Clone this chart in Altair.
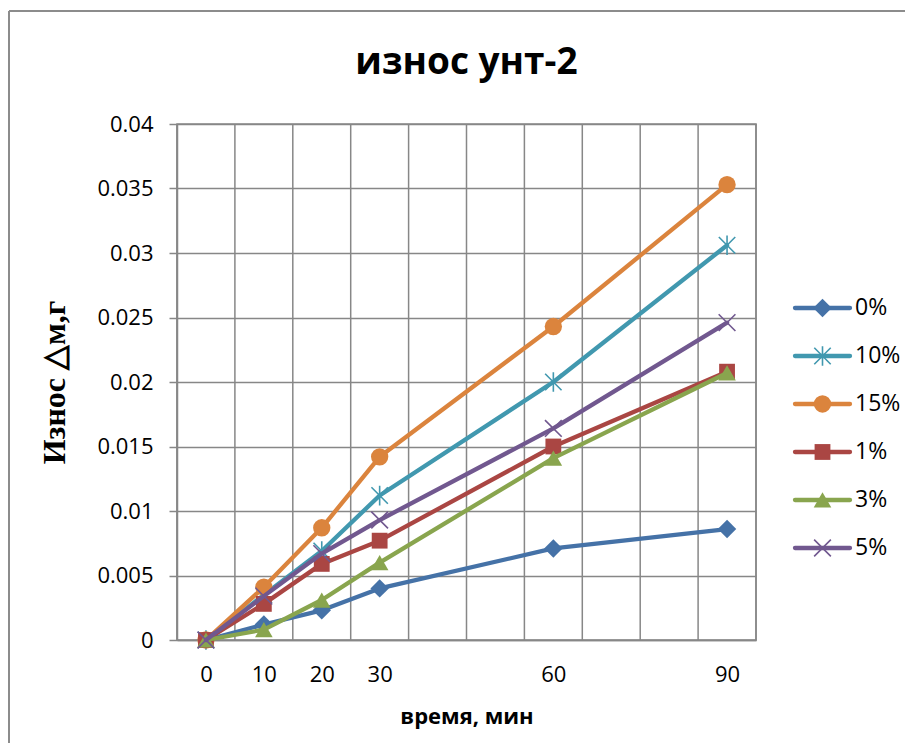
import altair as alt
import pandas as pd

# ---- data ----
times = [0, 10, 20, 30, 60, 90]
series_names = ["0%", "10%", "15%", "1%", "3%", "5%"]
s_0 = [0.0, 0.0012, 0.0023, 0.0040, 0.0071, 0.0086]
s_10 = [0.0, 0.0035, 0.0069, 0.0112, 0.0200, 0.0306]
s_15 = [0.0, 0.0041, 0.0087, 0.0142, 0.0243, 0.0353]
s_1 = [0.0, 0.0028, 0.0059, 0.0077, 0.0150, 0.0208]
s_3 = [0.0, 0.0008, 0.0031, 0.0060, 0.0141, 0.0207]
s_5 = [0.0, 0.0034, 0.0067, 0.0093, 0.0164, 0.0246]
series_values = [s_0, s_10, s_15, s_1, s_3, s_5]
x_tick_labels = [0, 10, 20, 30, 60, 90]
x_grid = [-5, 5, 15, 25, 35, 45, 55, 65, 75, 85, 95]
y_ticks = [0, 0.005, 0.01, 0.015, 0.02, 0.025, 0.03, 0.035, 0.04]

colors = ["#4572A7", "#4198AF", "#DB843D", "#AA4643", "#89A54E", "#71588F"]
ASTER = "M-1,-1L1,1M-1,1L1,-1M0,-1.2L0,1.2"
XMARK = "M-1,-1L1,1M-1,1L1,-1"
# (shape, filled, size)
markers = [
    ("diamond", True, 340),
    (ASTER, False, 270),
    ("circle", True, 300),
    ("square", True, 250),
    ("triangle-up", True, 310),
    (XMARK, False, 280),
]

GRID = "#878787"
FONT = "Open Sans"

W, H = 579, 516

xscale = alt.Scale(domain=[-5, 95], nice=False, zero=False)
yscale = alt.Scale(domain=[0, 0.04], nice=False)

x_axis = alt.Axis(
    values=x_tick_labels, grid=False, ticks=False, domainColor=GRID, domainWidth=1.5,
    labelFont=FONT, labelFontSize=22, labelColor="#000", labelPadding=24,
    title="время, мин", titleFont=FONT, titleFontSize=22, titleFontWeight="bold",
    titleColor="#000", titlePadding=21,
)
y_axis = alt.Axis(
    values=y_ticks, grid=True, gridColor=GRID, gridWidth=1.5, ticks=True, tickSize=8,
    tickColor=GRID, tickWidth=1.5, domainColor=GRID, domainWidth=1.5,
    labelFont=FONT, labelFontSize=22, labelColor="#000", labelPadding=16,
    labelExpr="datum.value == 0 ? '0' : format(datum.value, '.3~f')",
    title="Износ △м,г", titleFont="Liberation Serif", titleFontSize=32,
    titleFontWeight="bold", titleColor="#000", titlePadding=25,
)

layers = []

# vertical grid lines
grid_df = pd.DataFrame({"g": x_grid})
layers.append(alt.Chart(grid_df).mark_rule(color=GRID, strokeWidth=1.5).encode(
    x=alt.X("g:Q", scale=xscale, axis=x_axis)))

for name, vals, col, (shape, filled, size) in zip(series_names, series_values, colors, markers):
    d = pd.DataFrame({"t": times, "v": vals, "s": name})
    base = alt.Chart(d).encode(
        x=alt.X("t:Q", scale=xscale, axis=x_axis),
        y=alt.Y("v:Q", scale=yscale, axis=y_axis),
    )
    layers.append(base.mark_line(color=col, strokeWidth=4.3, strokeCap="round", strokeJoin="round"))
    if filled:
        layers.append(base.mark_point(shape=shape, filled=True, fill=col, color=col,
                                      size=size, opacity=1, strokeWidth=0))
    else:
        layers.append(base.mark_point(shape=shape, filled=False, color=col, size=size,
                                      opacity=1, strokeWidth=1.6))

main = alt.layer(*layers).properties(
    width=W, height=H,
    title=alt.TitleParams("износ унт-2", font=FONT, fontSize=37, fontWeight="bold",
                          color="#000", offset=31, anchor="middle"),
    view=alt.ViewBackground(stroke=GRID, strokeWidth=1.5),
)

# ---- legend as its own small chart ----
lx = alt.Scale(domain=[0, 1], nice=False, zero=False)
ly = alt.Scale(domain=[-3.833, 6.917], nice=False, zero=False, reverse=True)
leg_layers = []

# decorative outer frame (left and top edge of the chart area)
one = pd.DataFrame({"k": [0]})
leg_layers.append(alt.Chart(one).mark_rule(color="#8c8c8c", strokeWidth=2, clip=False).encode(
    x=alt.value(-786), y=alt.value(-113), y2=alt.value(619)))
leg_layers.append(alt.Chart(one).mark_rule(color="#8c8c8c", strokeWidth=2, clip=False).encode(
    x=alt.value(-786), x2=alt.value(110), y=alt.value(-113)))

for i, (name, col, (shape, filled, size)) in enumerate(zip(series_names, colors, markers)):
    dl = pd.DataFrame({"lx": [0, 1], "row": [i, i], "s": [name, name]})
    dm = pd.DataFrame({"lx": [0.5], "row": [i], "s": [name]})
    dt = pd.DataFrame({"lx": [1], "row": [i], "s": [name]})
    enc = dict(x=alt.X("lx:Q", scale=lx, axis=None), y=alt.Y("row:Q", scale=ly, axis=None))
    leg_layers.append(alt.Chart(dl).mark_line(color=col, strokeWidth=4.3, strokeCap="round").encode(**enc))
    if filled:
        leg_layers.append(alt.Chart(dm).mark_point(shape=shape, filled=True, fill=col, color=col,
                                                   size=size, opacity=1, strokeWidth=0).encode(**enc))
    else:
        leg_layers.append(alt.Chart(dm).mark_point(shape=shape, filled=False, color=col, size=size,
                                                   opacity=1, strokeWidth=1.6).encode(**enc))
    leg_layers.append(alt.Chart(dt).mark_text(align="left", baseline="middle", dx=5, font=FONT,
                                              fontSize=23, color="#000").encode(text="s:N", **enc))

legend = alt.layer(*leg_layers).properties(
    width=55, height=H,
    view=alt.ViewBackground(strokeOpacity=0, strokeWidth=0),
)

chart = alt.hconcat(main, legend, spacing=39, bounds="flush").properties(
    padding={"left": 0, "top": 2, "right": 0, "bottom": 0},
    background="white",
)

chart.save("out.html", embed_options={"renderer": "svg", "actions": False})
